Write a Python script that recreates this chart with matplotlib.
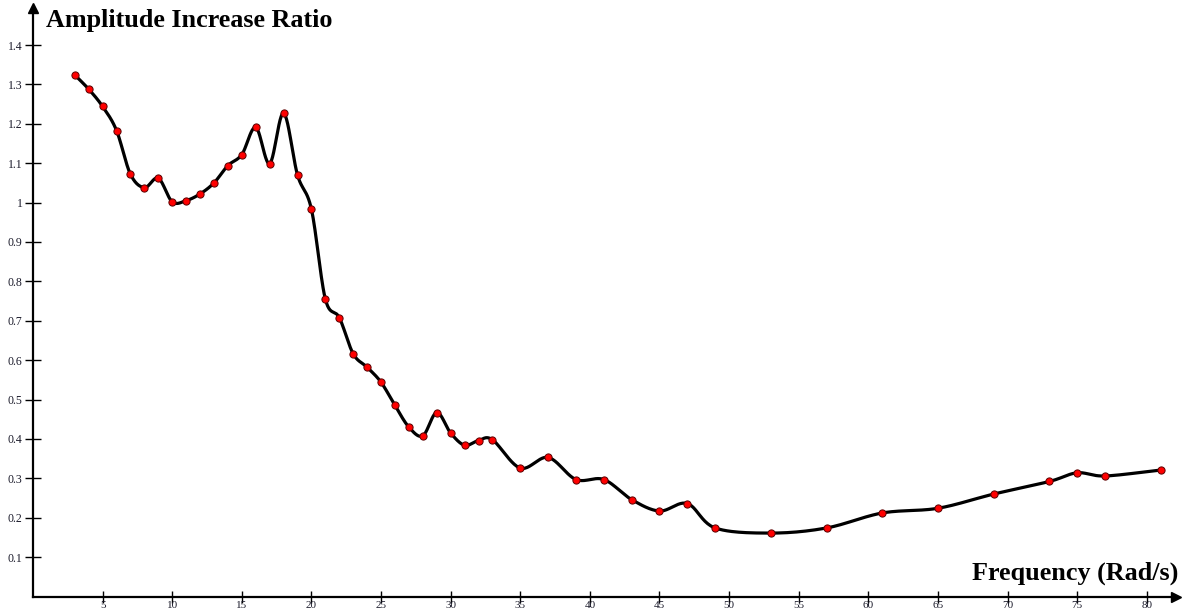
import numpy as np
import matplotlib
matplotlib.use("Agg")
import matplotlib.pyplot as plt

# Frequency (rad/s) and measured amplitude increase ratio
frequency = [3, 4, 5, 6, 7, 8, 9, 10, 11, 12, 13, 14, 15, 16, 17, 18, 19, 20,
             21, 22, 23, 24, 25, 26, 27, 28, 29, 30, 31, 32, 33, 35, 37, 39,
             41, 43, 45, 47, 49, 53, 57, 61, 65, 69, 73, 75, 77, 81]
ratio = [1.324, 1.288, 1.244, 1.183, 1.072, 1.038, 1.062, 1.002, 1.005, 1.022,
         1.050, 1.094, 1.122, 1.191, 1.099, 1.227, 1.070, 0.983,
         0.755, 0.708, 0.616, 0.582, 0.544, 0.485, 0.430, 0.408, 0.467, 0.415,
         0.384, 0.396, 0.398, 0.326, 0.353, 0.297,
         0.297, 0.246, 0.217, 0.236, 0.174, 0.161, 0.174, 0.212, 0.224, 0.260,
         0.292, 0.314, 0.306, 0.321]
x_ticks = [5, 10, 15, 20, 25, 30, 35, 40, 45, 50, 55, 60, 65, 70, 75, 80]
y_ticks = [0.1, 0.2, 0.3, 0.4, 0.5, 0.6, 0.7, 0.8, 0.9, 1.0, 1.1, 1.2, 1.3, 1.4]


def catmull_rom(xs, ys, steps=24):
    """Smooth curve passing through every point (uniform Catmull-Rom)."""
    p = np.column_stack([xs, ys]).astype(float)
    p = np.vstack([2 * p[0] - p[1], p, 2 * p[-1] - p[-2]])
    t = np.linspace(0, 1, steps, endpoint=False)[:, None]
    out = []
    for i in range(1, len(p) - 2):
        p0, p1, p2, p3 = p[i - 1], p[i], p[i + 1], p[i + 2]
        seg = 0.5 * (2 * p1 + (-p0 + p2) * t
                     + (2 * p0 - 5 * p1 + 4 * p2 - p3) * t ** 2
                     + (-p0 + 3 * p1 - 3 * p2 + p3) * t ** 3)
        out.append(seg)
    out.append(p[-2][None, :])
    c = np.vstack(out)
    return c[:, 0], c[:, 1]


W, H = 1189, 613
fig = plt.figure(figsize=(W / 100, H / 100), dpi=100)
left, right, bottom, top = 33, 1176, 596.5, 8
ax = fig.add_axes([left / W, (H - bottom) / H, (right - left) / W, (bottom - top) / H])
ax.set_xlim(0, 82.1)
ax.set_ylim(0, 1.494)

serif = ["Liberation Serif", "DejaVu Serif"]

cx, cy = catmull_rom(frequency, ratio)
ax.plot(cx, cy, color="black", lw=2.3, solid_capstyle="round", zorder=3)
ax.plot(frequency, ratio, linestyle="none", marker="o", markersize=5.2,
        markerfacecolor="#ff0000", markeredgecolor="#5a0000",
        markeredgewidth=0.7, zorder=4)

for side in ("top", "right"):
    ax.spines[side].set_visible(False)
for side in ("left", "bottom"):
    ax.spines[side].set_linewidth(1.6)
    ax.spines[side].set_color("black")

# arrow heads at the ends of both axes
ax.plot(1, 0, marker=">", color="black", markersize=7, transform=ax.transAxes,
        clip_on=False, zorder=5)
ax.plot(0, 1, marker="^", color="black", markersize=7, transform=ax.transAxes,
        clip_on=False, zorder=5)

ax.set_xticks(x_ticks)
ax.set_xticklabels([str(v) for v in x_ticks])
ax.set_yticks(y_ticks)
ax.set_yticklabels([f"{v:g}" for v in y_ticks])
ax.tick_params(axis="both", direction="inout", length=11, width=1.0,
               colors="black", labelcolor="#1a1a2a", labelsize=8.5)
ax.tick_params(axis="x", length=8.5, pad=-0.8, labelsize=8)
ax.tick_params(axis="y", pad=2)
for lab in ax.get_xticklabels() + ax.get_yticklabels():
    lab.set_family(serif)

fig.text(46 / W, 1 - 27 / H, "Amplitude Increase Ratio", family=serif,
         fontweight="bold", fontsize=18.8, ha="left", va="baseline")
fig.text(1178 / W, 1 - 580 / H, "Frequency (Rad/s)", family=serif,
         fontweight="bold", fontsize=18.8, ha="right", va="baseline")

fig.savefig("out.png", dpi=100, facecolor="white")
